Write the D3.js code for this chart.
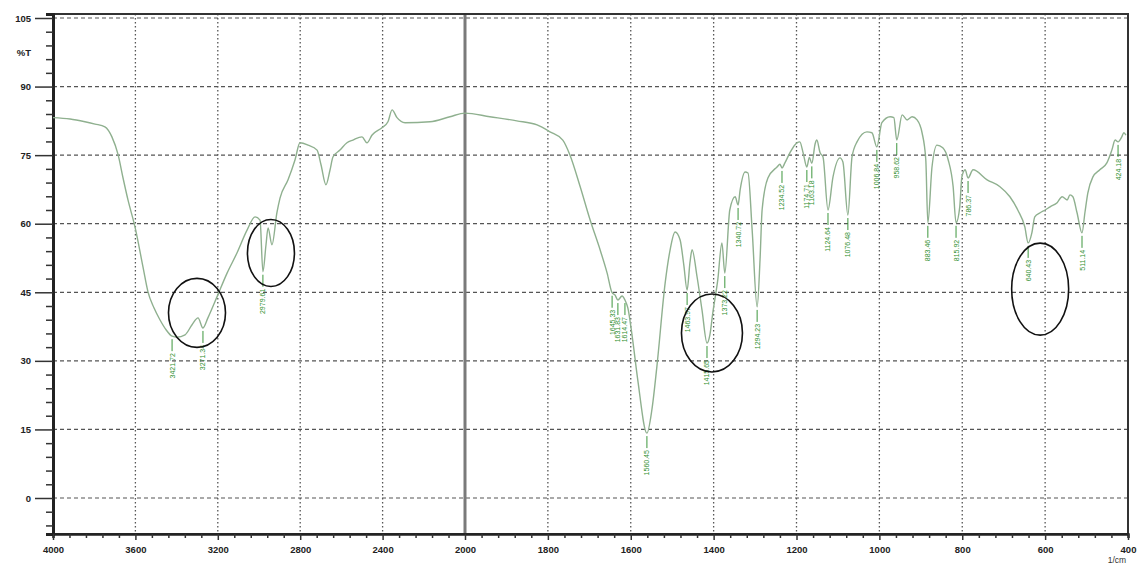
<!DOCTYPE html>
<html><head><meta charset="utf-8">
<script src="https://cdn.jsdelivr.net/npm/d3@7"></script>
<style>body{margin:0;background:#fff} svg{display:block}</style>
</head><body><svg id="c" width="1137" height="567"></svg>
<script>
const wavenumbers = [4000,3917,3845,3796,3748,3714,3684,3660,3636,3602,3563,3539,3510,3481,3451,3422,3398,3359,3325,3296,3272,3248,3204,3155,3107,3058,3019,2995,2981,2966,2956,2937,2913,2898,2859,2825,2801,2762,2718,2699,2675,2655,2641,2607,2573,2544,2500,2476,2451,2403,2374,2354,2330,2291,2170,2073,2000,
1940,1875,1826,1795,1764,1747,1722,1698,1674,1657,1645,1638,1631,1621,1614,1607,1597,1583,1561,1549,1537,1517,1505,1493,1481,1472,1464,1457,1452,1440,1428,1416,1409,1402,1390,1380,1373,1361,1348,1341,1336,1324,1317,1307,1295,1288,1283,1269,1247,1240,1235,1228,1216,1199,1192,1184,1175,1169,1163,1155,1151,1143,1136,1124,1112,1095,1088,1076,1066,1054,1030,1018,1006,994,974,965,958,945,933,921,909,897,888,883,873,861,847,834,822,815,806,801,793,786,774,740,709,685,666,649,641,632,625,612,600,588,571,559,547,540,533,523,511,504,497,485,468,451,439,431,424,415,410,405];
const transmittance = [83.2,82.9,82.3,81.8,81.2,79.0,75.1,70.0,65.2,59.3,50.5,45.1,41.6,39.0,36.8,35.4,35.2,35.7,37.9,39.4,37.2,39.4,44.0,49.2,53.6,58.6,61.5,60.8,49.5,55.4,59.1,55.4,62.4,65.6,69.6,74.0,77.7,77.2,76.1,72.9,68.5,71.8,74.6,76.1,77.7,78.3,79.0,77.7,79.4,81.0,82.3,84.9,83.2,82.1,82.3,83.4,84.2,
83.4,82.5,81.6,80.1,78.3,75.1,68.1,60.8,54.3,49.2,44.9,44.4,43.3,44.2,43.3,41.6,35.7,25.8,14.2,19.3,28.7,47.0,54.3,58.2,56.5,51.0,45.5,51.6,54.3,48.4,41.1,33.9,35.7,40.5,47.7,55.8,49.2,63.0,65.9,64.1,67.4,71.3,71.1,58.6,41.8,52.1,63.0,70.0,72.4,73.0,72.2,73.3,75.5,77.7,77.9,75.5,72.4,74.5,73.2,77.5,78.3,75.5,74.6,63.0,70.2,74.4,73.5,61.9,74.6,77.9,80.1,79.9,76.8,82.1,83.4,83.2,78.3,83.8,82.7,83.4,82.7,79.9,74.0,60.2,72.4,77.2,76.6,74.0,68.1,60.2,63.7,70.2,71.8,70.0,71.8,69.6,68.1,65.9,63.0,59.3,55.8,58.0,61.5,62.4,63.0,63.7,64.6,65.9,65.2,66.3,65.9,62.4,58.0,62.4,66.7,70.2,71.8,73.3,76.1,78.3,77.9,79.0,79.9,79.4];

const xMajorTicks = [4000,3600,3200,2800,2400,2000,1800,1600,1400,1200,1000,800,600,400];
const yMajorTicks = [0,15,30,45,60,75,90,105];
const peakWavenumbers = [3422,3272,2981,1645,1631,1614,1561,1464,1416,1373,1341,1295,1235,1175,1163,1124,1076,1006,958,883,815,786,641,511,424];
const peakLabels = ["3421.72","3271.34","2979.61","1645.33","1631.83","1614.47","1560.45","1463.97","1415.65","1373.22","1340.72","1294.23","1234.52","1174.71","1163.18","1124.64","1076.48","1006.84","958.62","883.46","815.92","786.37","640.43","511.14","424.18"];
const circledWavenumbers = [3301,2942,1404,612];
const circledTransmittance = [40.5,53.6,36.1,45.7];
const xUnitLabel = "1/cm";
const yUnitLabel = "%T";

const svg = d3.select("#c");
const x = d3.scaleLinear().domain([4000,2000,400]).range([53,465,1128]);
const y = d3.scaleLinear().domain([-7.875,105.875]).range([534,14]);
const [x0,x1] = [x(4000), x(400)];
const [yb,yt] = [y.range()[0], y.range()[1]];

// grid
const grid = svg.append("g");
grid.selectAll("line.h").data(yMajorTicks).join("line")
  .attr("x1",x0).attr("x2",x1).attr("y1",d=>y(d)).attr("y2",d=>y(d))
  .attr("stroke","#555").attr("stroke-width",1.2).attr("stroke-dasharray","4,3");
grid.selectAll("line.v").data(xMajorTicks.filter(d=>d!==4000&&d!==2000&&d!==400)).join("line")
  .attr("x1",d=>x(d)).attr("x2",d=>x(d)).attr("y1",yt).attr("y2",yb)
  .attr("stroke","#555").attr("stroke-width",1.3).attr("stroke-dasharray","1.5,2.5");
grid.append("line").attr("x1",x(2000)).attr("x2",x(2000)).attr("y1",yt).attr("y2",yb)
  .attr("stroke","#7a7a7a").attr("stroke-width",3);

// frame
svg.append("rect").attr("x",x0).attr("y",yt).attr("width",x1-x0).attr("height",yb-yt)
  .attr("fill","none").attr("stroke","#333").attr("stroke-width",2);

// axes
const font = "Liberation Sans, Arial, sans-serif";
const yMinor = d3.range(-6,106,3).filter(d=>d%15!==0);
svg.append("g").attr("transform",`translate(${x0},0)`)
  .call(d3.axisLeft(y).tickValues(yMinor).tickSize(7).tickFormat(""))
  .call(g=>g.select(".domain").attr("stroke","#222").attr("stroke-width",3))
  .call(g=>g.selectAll(".tick line").attr("stroke","#333").attr("stroke-width",1.5));
svg.append("g").attr("transform",`translate(${x0},0)`)
  .call(d3.axisLeft(y).tickValues(yMajorTicks).tickSize(18).tickPadding(4).tickFormat(d3.format("d")))
  .call(g=>g.select(".domain").remove())
  .call(g=>g.selectAll(".tick line").attr("stroke","#333").attr("stroke-width",1.5))
  .call(g=>g.selectAll("text").attr("font-family",font).attr("font-size",9.5).attr("fill","#222").attr("font-weight","bold"));

const xMinor = d3.range(4000,2000,-80).concat(d3.range(2000,399,-40)).filter(d=>!xMajorTicks.includes(d));
svg.append("g").attr("transform",`translate(0,${yb})`)
  .call(d3.axisBottom(x).tickValues(xMinor).tickSize(4).tickFormat(""))
  .call(g=>g.select(".domain").attr("stroke","#222").attr("stroke-width",2.5))
  .call(g=>g.selectAll(".tick line").attr("stroke","#333").attr("stroke-width",1.5));
svg.append("g").attr("transform",`translate(0,${yb})`)
  .call(d3.axisBottom(x).tickValues(xMajorTicks).tickSize(6).tickPadding(6).tickFormat(d3.format("d")))
  .call(g=>g.select(".domain").remove())
  .call(g=>g.selectAll(".tick line").attr("stroke","#333").attr("stroke-width",1.5))
  .call(g=>g.selectAll("text").attr("font-family",font).attr("font-size",9.5).attr("fill","#222").attr("font-weight","bold"));

svg.append("text").attr("x",x1-11).attr("y",yb+29).attr("text-anchor","middle")
  .attr("font-family",font).attr("font-size",8.5).attr("fill","#333").text(xUnitLabel);
svg.append("text").attr("x",31).attr("y",56).attr("text-anchor","end")
  .attr("font-family",font).attr("font-size",9.5).attr("font-weight","bold").attr("fill","#222").text(yUnitLabel);

// spectrum
const pts = wavenumbers.map((w,i)=>[w,transmittance[i]]);
svg.append("path").datum(pts)
  .attr("d",d3.line().x(d=>x(d[0])).y(d=>y(d[1])).curve(d3.curveMonotoneX))
  .attr("fill","none").attr("stroke","#8fb08f").attr("stroke-width",1.4);

// peak labels
const tAt = w => transmittance[wavenumbers.indexOf(w)];
const pk = svg.append("g");
peakWavenumbers.forEach((w,i)=>{
  const px = x(w), py = y(tAt(w));
  pk.append("line").attr("x1",px).attr("x2",px).attr("y1",py+3).attr("y2",py+15)
    .attr("stroke","#3c963c").attr("stroke-width",1);
  pk.append("text").attr("transform",`translate(${px+2.5},${py+17}) rotate(-90)`)
    .attr("text-anchor","end").attr("font-family",font).attr("font-size",7)
    .attr("fill","#2f8f2f").text(peakLabels[i]);
});

// circled regions
const rx = [28.5,23.5,30.5,28.5], ry = [34.5,33.5,39,46];
svg.append("g").selectAll("ellipse").data(circledWavenumbers).join("ellipse")
  .attr("cx",d=>x(d)).attr("cy",(d,i)=>y(circledTransmittance[i]))
  .attr("rx",(d,i)=>rx[i]).attr("ry",(d,i)=>ry[i])
  .attr("fill","none").attr("stroke","#111").attr("stroke-width",1.6);
</script></body></html>
